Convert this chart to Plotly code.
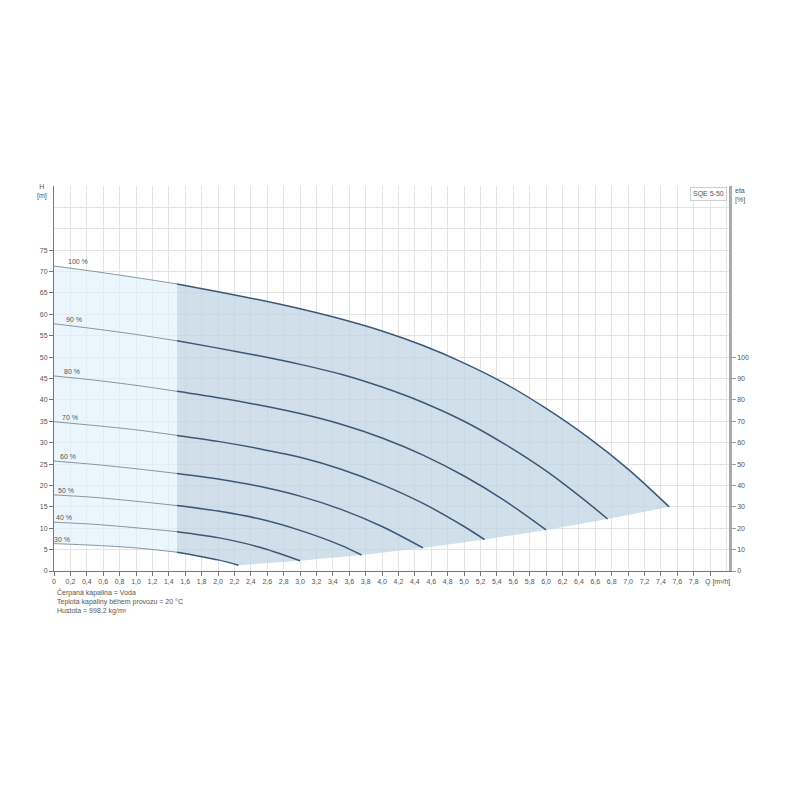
import plotly.graph_objects as go

# pump curves (Q in m3/h, H in m), one per speed
speed_labels = ["100 %", "90 %", "80 %", "70 %", "60 %", "50 %", "40 %", "30 %"]
speed_frac = [1.0, 0.9, 0.8, 0.7, 0.6, 0.5, 0.4, 0.3]

q_100 = [0, 0.5, 1.0, 1.5, 2.0, 2.5, 3.0, 3.5, 4.0, 4.5, 5.0, 5.5, 6.0, 6.5, 7.0, 7.5]
h_100 = [71.3, 70.0, 68.6, 67.1, 65.3, 63.4, 61.3, 58.9, 56.1, 52.7, 48.6, 43.8, 38.0, 31.4, 23.8, 15.0]

q_90 = [0, 0.5, 1.0, 1.5, 2.0, 2.5, 3.0, 3.5, 4.0, 4.5, 5.0, 5.5, 6.0, 6.5, 6.75]
h_90 = [57.8, 56.6, 55.3, 53.8, 52.1, 50.3, 48.3, 46.0, 43.0, 39.4, 35.0, 29.6, 23.4, 16.1, 12.15]

q_80 = [0, 0.5, 1.0, 1.5, 2.0, 2.5, 3.0, 3.5, 4.0, 4.5, 5.0, 5.5, 6.0]
h_80 = [45.6, 44.6, 43.4, 42.0, 40.5, 38.8, 36.8, 34.3, 31.1, 27.1, 22.2, 16.4, 9.6]

q_70 = [0, 0.5, 1.0, 1.5, 2.0, 2.5, 3.0, 3.5, 4.0, 4.5, 5.0, 5.25]
h_70 = [34.9, 34.0, 33.0, 31.7, 30.3, 28.6, 26.6, 23.8, 20.2, 15.8, 10.4, 7.35]

q_60 = [0, 0.5, 1.0, 1.5, 2.0, 2.5, 3.0, 3.5, 4.0, 4.5]
h_60 = [25.7, 24.9, 23.9, 22.8, 21.5, 19.8, 17.5, 14.4, 10.4, 5.4]

q_50 = [0, 0.5, 1.0, 1.5, 2.0, 2.5, 3.0, 3.5, 3.75]
h_50 = [17.8, 17.2, 16.3, 15.3, 14.0, 12.2, 9.5, 6.0, 3.75]

q_40 = [0, 0.5, 1.0, 1.5, 2.0, 2.5, 3.0]
h_40 = [11.4, 10.9, 10.1, 9.2, 7.8, 5.6, 2.4]

q_30 = [0, 0.5, 1.0, 1.5, 2.0, 2.25]
h_30 = [6.4, 6.0, 5.4, 4.4, 2.6, 1.35]

q_curves = [q_100, q_90, q_80, q_70, q_60, q_50, q_40, q_30]
h_curves = [h_100, h_90, h_80, h_70, h_60, h_50, h_40, h_30]

# limit of the recommended range (darker area starts here)
q_min_op = 1.5

x_tick_vals = [round(0.2 * i, 1) for i in range(41)]
x_tick_text = ["0" if v == 0 else f"{v:.1f}".replace(".", ",") for v in x_tick_vals[:-1]] + [""]
h_tick_vals = list(range(0, 80, 5))
eta_tick_vals = list(range(0, 110, 10))

notes = ["Čerpaná kapalina = Voda",
         "Teplota kapaliny během provozu = 20 °C",
         "Hustota = 998.2 kg/m³"]

FONT = "Liberation Sans, Arial, sans-serif"
TXT = "#555555"
LIGHT_FILL = "rgba(222,239,251,0.65)"
DARK_FILL = "rgba(190,210,226,0.72)"
CURVE = "#3b5777"
THIN = "#6f7d8a"


def split(qs, hs):
    lo = [(q, h) for q, h in zip(qs, hs) if q <= q_min_op]
    hi = [(q, h) for q, h in zip(qs, hs) if q >= q_min_op]
    return lo, hi


fig = go.Figure()

# light area: 0 .. 1.5 between 100 % and 30 % curves
top_lo, top_hi = split(q_100, h_100)
bot_lo, bot_hi = split(q_30, h_30)
ends = [(q[-1], h[-1]) for q, h in zip(q_curves, h_curves)]

light_poly = top_lo + bot_lo[::-1]
fig.add_trace(go.Scatter(
    x=[p[0] for p in light_poly], y=[p[1] for p in light_poly],
    fill="toself", fillcolor=LIGHT_FILL, line=dict(width=0),
    mode="lines", hoverinfo="skip", showlegend=False,
))

dark_poly = top_hi + ends[1:] + bot_hi[::-1]
fig.add_trace(go.Scatter(
    x=[p[0] for p in dark_poly], y=[p[1] for p in dark_poly],
    fill="toself", fillcolor=DARK_FILL, line=dict(width=0),
    mode="lines", hoverinfo="skip", showlegend=False,
))

for qs, hs in zip(q_curves, h_curves):
    lo, hi = split(qs, hs)
    fig.add_trace(go.Scatter(
        x=[p[0] for p in lo], y=[p[1] for p in lo], mode="lines",
        line=dict(color=THIN, width=0.8, shape="spline", smoothing=0.8),
        showlegend=False, hoverinfo="skip",
    ))
    fig.add_trace(go.Scatter(
        x=[p[0] for p in hi], y=[p[1] for p in hi], mode="lines",
        line=dict(color=CURVE, width=1.5, shape="spline", smoothing=0.8),
        showlegend=False, hoverinfo="skip",
    ))

# dummy trace so the eta axis is drawn
fig.add_trace(go.Scatter(x=[0], y=[0], yaxis="y2", mode="markers",
                         marker=dict(opacity=0), showlegend=False, hoverinfo="skip"))

# speed labels just above the start of each curve
for lab, n, hs in zip(speed_labels, speed_frac, h_curves):
    fig.add_annotation(
        x=0, y=hs[0], text=lab, showarrow=False,
        xanchor="left", yanchor="bottom",
        xshift=-2 + 20 * (n - 0.3), yshift=-1,
        font=dict(size=7, color=TXT, family=FONT),
    )

# axis name of Q in place of the last tick label
fig.add_annotation(x=8.0, y=0, xref="x", yref="paper", text="Q [m³/h]",
                   showarrow=False, xanchor="left", yanchor="top",
                   xshift=-7, yshift=-5,
                   font=dict(size=7, color=TXT, family=FONT))
fig.add_annotation(x=0, y=1, xref="paper", yref="paper", text="H<br>[m]",
                   showarrow=False, xanchor="right", yanchor="top",
                   xshift=-5, yshift=5, align="center",
                   font=dict(size=7, color=TXT, family=FONT))
fig.add_annotation(x=1, y=1, xref="paper", yref="paper", text="eta<br>[%]",
                   showarrow=False, xanchor="left", yanchor="top",
                   xshift=4, yshift=1, align="left",
                   font=dict(size=7, color=TXT, family=FONT))
fig.add_annotation(x=1, y=1, xref="paper", yref="paper", text="SQE 5-50",
                   showarrow=False, xanchor="right", yanchor="top",
                   xshift=-2, yshift=-1, bgcolor="white",
                   bordercolor="#d0d0d0", borderwidth=1, borderpad=2,
                   font=dict(size=7, color=TXT, family=FONT))
fig.add_annotation(x=0, y=0, xref="paper", yref="paper", text="<br>".join(notes),
                   showarrow=False, xanchor="left", yanchor="top",
                   xshift=1, yshift=-15, align="left",
                   font=dict(size=7, color=TXT, family=FONT))

# page body adds 8 px around the figure, margins account for it
fig.update_layout(
    width=800, height=800,
    margin=dict(l=46, r=79, t=178, b=237),
    paper_bgcolor="white", plot_bgcolor="white",
    font=dict(family=FONT, size=7, color=TXT),
    xaxis=dict(
        range=[0, 8.23], tickmode="array", tickvals=x_tick_vals, ticktext=x_tick_text,
        tickangle=0, automargin=False,
        showgrid=False, zeroline=False, ticks="outside", ticklen=4, tickcolor="#777",
        showline=True, linecolor="#777", linewidth=1,
        minor=dict(dtick=0.2, tick0=0, showgrid=True, gridcolor="#e4e4e4", gridwidth=1),
        tickfont=dict(size=7, color=TXT),
    ),
    yaxis=dict(
        range=[0, 90], tickmode="array", tickvals=h_tick_vals, automargin=False,
        showgrid=False, zeroline=False, ticks="outside", ticklen=4, tickcolor="#777",
        showline=True, linecolor="#777", linewidth=1,
        minor=dict(dtick=5, tick0=0, showgrid=True, gridcolor="#e4e4e4", gridwidth=1),
        tickfont=dict(size=7, color=TXT),
    ),
    yaxis2=dict(
        range=[0, 180], overlaying="y", side="right", tickmode="array",
        tickvals=eta_tick_vals, showgrid=False, zeroline=False, automargin=False,
        ticks="outside", ticklen=4, tickcolor="#999",
        showline=True, linecolor="#aaaaaa", linewidth=2.5,
        tickfont=dict(size=7, color=TXT),
    ),
)

fig.write_html("out.html")
